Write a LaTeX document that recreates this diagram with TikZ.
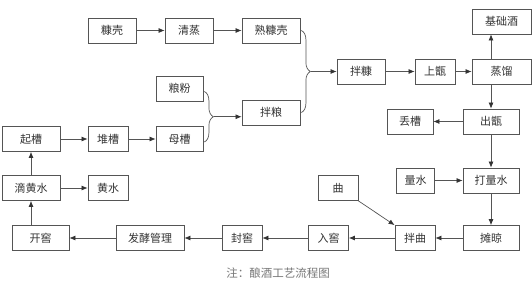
\documentclass[tikz,border=0pt]{standalone}
\usepackage{fontspec}
\setmainfont{Noto Sans CJK SC}
\usepackage{tikz}
\usetikzlibrary{arrows.meta,positioning,calc,decorations.pathreplacing}
\usepackage{xcolor}
\definecolor{linegray}{HTML}{555555}
\definecolor{textgray}{HTML}{333333}
\definecolor{notegray}{HTML}{777777}

\tikzset{
  box/.style={draw=linegray,line width=0.8pt,minimum height=25pt,inner sep=0pt,
    text=textgray,font=\fontsize{11}{12}\selectfont},
  arr/.style={draw=linegray,line width=0.7pt,-{Latex[length=6pt,width=5pt,black!80]}},
  bracket/.style={draw=linegray,line width=0.7pt,decorate,decoration={brace,amplitude=9pt}}
}

\begin{document}
\begin{tikzpicture}[x=1pt,y=-1pt]
        \useasboundingbox (0,0) rectangle (532,289);
        % top row
        \node[box,minimum width=48pt] (kangke) at (112,30.5) {糠壳};
        \node[box,minimum width=48pt] (qingzheng) at (189,30.5) {清蒸};
        \node[box,minimum width=58pt] (shukangke) at (271,30.5) {熟糠壳};
        \node[box,minimum width=47pt] (liangfen) at (179.5,88.5) {粮粉};
        \node[box,minimum width=58pt] (banliang) at (271,112.5) {拌粮};
        \node[box,minimum width=48pt] (bankang) at (361,71.5) {拌糠};
        \node[box,minimum width=40pt] (shangzeng) at (435,71.5) {上甑};
        \node[box,minimum width=59pt] (zhengliu) at (501.5,71.5) {蒸馏};
        \node[box,minimum width=59pt] (jichujiu) at (501.5,21.5) {基础酒};
        % right column
        \node[box,minimum width=56pt] (chuzeng) at (491,121.5) {出甑};
        \node[box,minimum width=46pt] (diucao) at (410,121.5) {丢槽};
        \node[box,minimum width=56pt] (daliangshui) at (491,180.5) {打量水};
        \node[box,minimum width=38pt] (liangshui) at (415.5,180.5) {量水};
        \node[box,minimum width=56pt] (tanliang) at (491,238) {摊晾};
        % bottom row
        \node[box,minimum width=40pt] (qu) at (338,188) {曲};
        \node[box,minimum width=40pt] (banqu) at (415,238) {拌曲};
        \node[box,minimum width=40pt] (rujiao) at (328.5,238) {入窖};
        \node[box,minimum width=40pt] (fengjiao) at (242,238) {封窖};
        \node[box,minimum width=68pt] (fajiao) at (150,238) {发酵管理};
        \node[box,minimum width=57pt] (kaijiao) at (40.5,238) {开窖};
        % left column
        \node[box,minimum width=58pt] (dihuangshui) at (31,188) {滴黄水};
        \node[box,minimum width=40pt] (huangshui) at (108,188) {黄水};
        \node[box,minimum width=58pt] (qicao) at (31,139) {起槽};
        \node[box,minimum width=40pt] (duicao) at (108,139) {堆槽};
        \node[box,minimum width=47pt] (mucao) at (179.5,139) {母槽};

        % braces
        \draw[bracket] ([xshift=1pt]shukangke.east) -- ([xshift=1pt]banliang.east);
        \coordinate (tipkang) at ($([xshift=1pt]shukangke.east)!0.5!([xshift=1pt]banliang.east)+(10,0)$);
        \draw[bracket] ([xshift=1pt,yshift=-3pt]liangfen.east) -- ([xshift=1pt,yshift=-3pt]mucao.east);
        \coordinate (tipliang) at ($([xshift=1pt,yshift=-3pt]liangfen.east)!0.5!([xshift=1pt,yshift=-3pt]mucao.east)+(10,0)$);

        % connectors
        \draw[arr] (kangke) -- (qingzheng);
        \draw[arr] (qingzheng) -- (shukangke);
        \draw[arr] (tipkang) -- (tipkang -| bankang.west);
        \draw[arr] (tipliang) -- (tipliang -| banliang.west);
        \draw[arr] (bankang) -- (shangzeng);
        \draw[arr] (shangzeng) -- (zhengliu);
        \draw[arr] (zhengliu.north -| chuzeng.north) -- (jichujiu.south -| chuzeng.north);
        \draw[arr] (zhengliu.south -| chuzeng.north) -- (chuzeng.north);
        \draw[arr] (chuzeng) -- (diucao);
        \draw[arr] (chuzeng) -- (daliangshui);
        \draw[arr] (liangshui) -- (daliangshui);
        \draw[arr] (daliangshui) -- (tanliang);
        \draw[arr] (tanliang) -- (banqu);
        \draw[arr] (qu.south east) -- (banqu.north west);
        \draw[arr] (banqu) -- (rujiao);
        \draw[arr] (rujiao) -- (fengjiao);
        \draw[arr] (fengjiao) -- (fajiao);
        \draw[arr] (fajiao) -- (kaijiao);
        \draw[arr] (kaijiao.north -| dihuangshui.south) -- (dihuangshui.south);
        \draw[arr] (dihuangshui) -- (huangshui);
        \draw[arr] (dihuangshui) -- (qicao);
        \draw[arr] (qicao) -- (duicao);
        \draw[arr] (duicao) -- (mucao);

        % caption
        \node[text=notegray,font=\fontsize{11.5}{13}\selectfont] (note) at (278,273) {注：酿酒工艺流程图};
      \end{tikzpicture}
\end{document}
